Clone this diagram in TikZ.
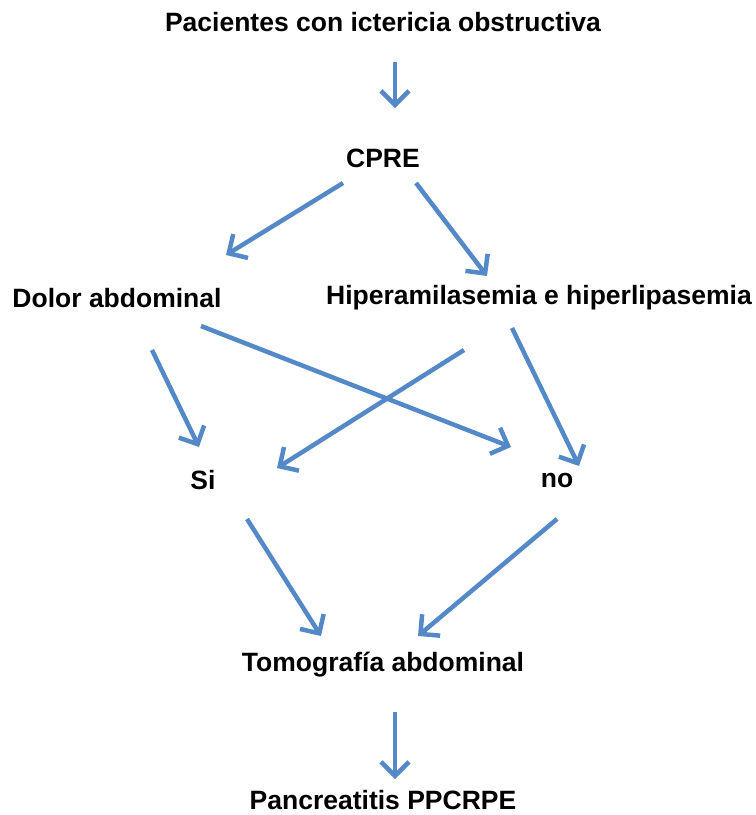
\documentclass[tikz,border=0pt]{standalone}
\usepackage{fontspec}
\setmainfont{Liberation Sans}
\usetikzlibrary{arrows.meta}
\definecolor{arrblue}{RGB}{84,137,200}
\begin{document}
\begin{tikzpicture}[x=1pt,y=-1pt,
  lbl/.style={font=\bfseries\fontsize{26.5}{30}\selectfont, inner sep=0pt, anchor=center},
  arr/.style={draw=arrblue, line width=4.5pt, -{Straight Barb[length=14pt,width=28pt,line width=4.5pt]}, line cap=butt}]
\useasboundingbox (0,0) rectangle (756,815);
\node[lbl] (pac) at (383,22) {Pacientes con ictericia obstructiva};
\node[lbl] (cpre) at (383,158) {CPRE};
\node[lbl] (dol) at (117,298) {Dolor abdominal};
\node[lbl] (hip) at (539,298) {Hiperamilasemia e hiperlipasemia};
\node[lbl] (si) at (203,480) {Si};
\node[lbl] (no) at (557,480) {no};
\node[lbl] (tom) at (383,665) {Tomografía abdominal};
\node[lbl] (pan) at (383,800) {Pancreatitis PPCRPE};
\coordinate (a1s) at (395,62);  \coordinate (a1e) at (395,108);
\coordinate (a2s) at (343,183); \coordinate (a2e) at (226,255);
\coordinate (a3s) at (416,183); \coordinate (a3e) at (487,276);
\coordinate (a4s) at (152,350); \coordinate (a4e) at (199,447);
\coordinate (a5s) at (201,326); \coordinate (a5e) at (511,447);
\coordinate (a6s) at (464,350); \coordinate (a6e) at (277,468);
\coordinate (a7s) at (512,328); \coordinate (a7e) at (579,466);
\coordinate (a8s) at (247,519); \coordinate (a8e) at (321,636);
\coordinate (a9s) at (557,519); \coordinate (a9e) at (418,636);
\coordinate (a10s) at (395,712); \coordinate (a10e) at (395,779);
\foreach \i in {1,...,10} { \draw[arr] (a\i s) -- (a\i e); }
\end{tikzpicture}
\end{document}
